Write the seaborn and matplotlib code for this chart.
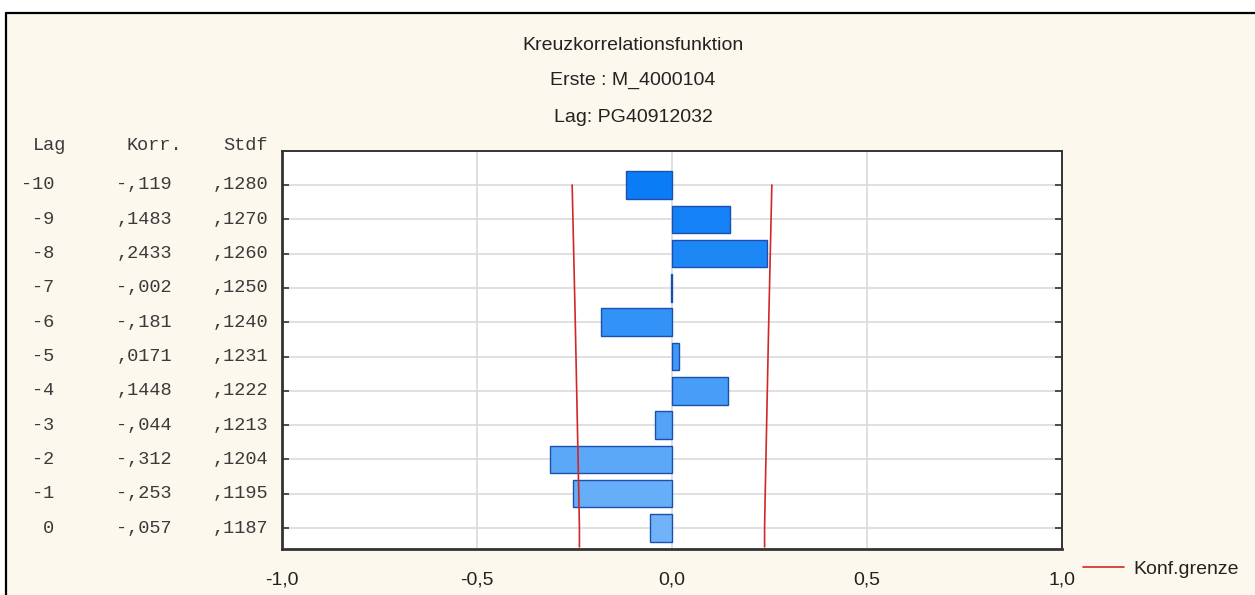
import numpy as np
import pandas as pd
import matplotlib
matplotlib.use("Agg")
import matplotlib.pyplot as plt
import matplotlib.transforms as mtransforms
from matplotlib.lines import Line2D
from matplotlib.patches import Rectangle
import seaborn as sns

# ---- data ----
lags = [-10, -9, -8, -7, -6, -5, -4, -3, -2, -1, 0]
korr = [-0.119, 0.1483, 0.2433, -0.002, -0.181, 0.0171, 0.1448, -0.044, -0.312, -0.253, -0.057]
stdf = [0.1280, 0.1270, 0.1260, 0.1250, 0.1240, 0.1231, 0.1222, 0.1213, 0.1204, 0.1195, 0.1187]
xticks = [-1.0, -0.5, 0.0, 0.5, 1.0]
xticklabels = ["-1,0", "-0,5", "0,0", "0,5", "1,0"]
title_lines = ["Kreuzkorrelationsfunktion", "Erste : M_4000104", "Lag: PG40912032"]
legend_label = "Konf.grenze"
headers = ["Lag", "Korr.", "Stdf"]


def fmt_korr(v):
    s = f"{abs(v):.4f}" if v >= 0 else f"{abs(v):.3f}"
    s = s.lstrip("0").replace(".", ",")
    return ("-" if v < 0 else "") + s


def fmt_stdf(v):
    return f"{v:.4f}".lstrip("0").replace(".", ",")


df = pd.DataFrame({"lag": [str(l) for l in lags], "korr": korr, "stdf": stdf})

sns.set_theme(style="white")
plt.rcParams["font.family"] = ["Liberation Sans", "DejaVu Sans"]

W, H = 1255, 595
fig = plt.figure(figsize=(W / 100, H / 100), dpi=100, facecolor="white")

# cream panel with top/left border
bx = 6 / W
fig.patches.append(Rectangle((bx, 0), 1 - bx, 1 - 13 / H, transform=fig.transFigure,
                             facecolor="#fdf8ed", edgecolor="none", zorder=-5))
fig.add_artist(Line2D([bx, 1], [1 - 13 / H, 1 - 13 / H], transform=fig.transFigure, color="black", lw=1.6, zorder=-4))
fig.add_artist(Line2D([bx, bx], [0, 1 - 13 / H], transform=fig.transFigure, color="black", lw=1.6, zorder=-4))

ax_l, ax_r, ax_t, ax_b = 282 / W, 1062 / W, 1 - 151 / H, 1 - 549 / H
ax = fig.add_axes([ax_l, ax_b, ax_r - ax_l, ax_t - ax_b])
ax.set_facecolor("white")

palette = sns.blend_palette(["#0a7cf6", "#70b3f8"], n_colors=len(lags))
sns.barplot(data=df, x="korr", y="lag", hue="lag", palette=palette, order=df["lag"],
            hue_order=df["lag"], legend=False, width=0.8, orient="h", errorbar=None,
            saturation=1, edgecolor="#1c4fae", linewidth=1.0, ax=ax, zorder=3)

# confidence limits
pos = np.arange(len(lags))
lim = 2 * np.array(stdf)
ypos = np.append(pos, pos[-1] + 0.55)
limx = np.append(lim, lim[-1])
conf_line, = ax.plot(limx, ypos, color="#d02828", lw=1.2, zorder=4, label=legend_label)
ax.plot(-limx, ypos, color="#d02828", lw=1.2, zorder=4)

ax.set_xlim(-1, 1)
ax.set_ylim(len(lags) - 1 + 0.61, -0.99)
ax.set_xticks(xticks)
ax.set_xticklabels(xticklabels)
ax.set_yticks(pos)
ax.set_yticklabels([])
ax.set_xlabel("")
ax.set_ylabel("")

ax.grid(True, axis="both", color="#dadada", lw=1.2, zorder=0)
ax.set_axisbelow(True)

ax.tick_params(axis="x", direction="in", length=2, width=1, pad=16, labelsize=14,
               labelcolor="#222222", color="#333333")
ax.tick_params(axis="y", direction="in", length=5, width=1.2, left=True, right=True,
               color="#333333")
for side, lw in [("left", 2.0), ("bottom", 2.0), ("top", 1.4), ("right", 1.4)]:
    ax.spines[side].set_visible(True)
    ax.spines[side].set_color("#333333")
    ax.spines[side].set_linewidth(lw)

# left table
tr = mtransforms.blended_transform_factory(fig.transFigure, ax.transData)
mono = dict(family=["Liberation Mono", "DejaVu Sans Mono"], fontsize=13.4, color="#3a3a3a", va="center")
for i in range(len(lags)):
    fig.text(54 / W, pos[i], str(lags[i]), ha="right", transform=tr, **mono)
    fig.text(172 / W, pos[i], fmt_korr(korr[i]), ha="right", transform=tr, **mono)
    fig.text(268 / W, pos[i], fmt_stdf(stdf[i]), ha="right", transform=tr, **mono)
hy = 1 - 146 / H
fig.text(66 / W, hy, headers[0], ha="right", **mono)
fig.text(182 / W, hy, headers[1], ha="right", **mono)
fig.text(268 / W, hy, headers[2], ha="right", **mono)

# titles
for t, y in zip(title_lines, [45, 80, 117]):
    fig.text(633 / W, 1 - y / H, t, ha="center", va="center", fontsize=14, color="#222222")

# legend
fig.legend(handles=[conf_line], labels=[legend_label], loc="center left",
           bbox_to_anchor=(1083 / W, 1 - 569 / H), bbox_transform=fig.transFigure,
           frameon=False, handlelength=2.1, handletextpad=0.5, borderpad=0,
           borderaxespad=0, fontsize=14, labelcolor="#222222")

fig.savefig("out.png", dpi=100, facecolor=fig.get_facecolor())
